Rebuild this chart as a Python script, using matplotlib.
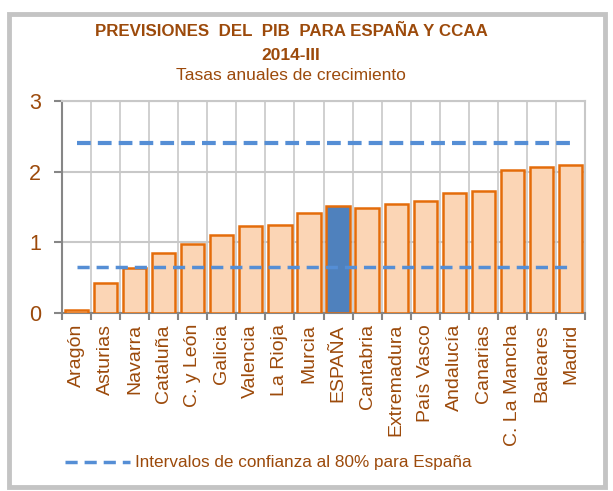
import numpy as np
import matplotlib.pyplot as plt
from matplotlib.patches import Rectangle

plt.rcParams['font.family'] = ['Liberation Sans', 'DejaVu Sans']

# datos
regiones = ['Aragón', 'Asturias', 'Navarra', 'Cataluña', 'C. y León', 'Galicia',
            'Valencia', 'La Rioja', 'Murcia', 'ESPAÑA', 'Cantabria', 'Extremadura',
            'País Vasco', 'Andalucía', 'Canarias', 'C. La Mancha', 'Baleares', 'Madrid']
crecimiento = [0.04, 0.43, 0.64, 0.85, 0.98, 1.11, 1.23, 1.25, 1.41, 1.51,
               1.49, 1.54, 1.59, 1.70, 1.72, 2.02, 2.06, 2.09]
int_sup = 2.40
int_inf = 0.65

marron = '#9C4A0B'
naranja = '#E46C0A'
relleno = '#FBD5B5'
azul = '#4F81BD'

fig = plt.figure(figsize=(6.13, 4.91), dpi=100)
# marco del grafico
fig.patches.append(Rectangle((9/613, 1-487/491), 596/613, 473/491, transform=fig.transFigure,
                             facecolor='none', edgecolor='#C4C4C4', linewidth=3.5, zorder=0))

ax = fig.add_axes([62/613, 1-313/491, 523/613, 212/491])
x = np.arange(len(regiones))
colores = [azul if r == 'ESPAÑA' else relleno for r in regiones]
ax.bar(x, crecimiento, width=0.8, color=colores, edgecolor=naranja, linewidth=1.8, zorder=3)

ax.plot([x[0], x[-1]], [int_sup, int_sup], '--', color='#558ED5', lw=3, dashes=(3.3, 1.7), zorder=4)
ax.plot([x[0], x[-1]], [int_inf, int_inf], '--', color='#558ED5', lw=2.5, dashes=(3.5, 2), zorder=4,
        label='Intervalos de confianza al 80% para España')

ax.set_xlim(-0.5, len(regiones) - 0.5)
ax.set_ylim(0, 3)
ax.set_yticks([0, 1, 2, 3])
ax.set_xticks(x)
ax.set_xticklabels(regiones, rotation=90, fontsize=14, color=marron)
ax.tick_params(axis='y', labelsize=15.5, labelcolor=marron, color='#868686', length=6, width=1.5, pad=9)
ax.tick_params(axis='x', length=0, pad=8)
ax.set_xticks(np.arange(-0.5, len(regiones)), minor=True)
ax.tick_params(axis='x', which='minor', length=5, color='#868686', width=1.5)
ax.grid(True, which='minor', axis='x', color='#C8C8C8', lw=1.2, zorder=0)
ax.grid(True, which='major', axis='y', color='#C8C8C8', lw=1.5, zorder=0)
ax.grid(False, which='major', axis='x')
ax.set_axisbelow(True)
for s in ['top', 'right']:
    ax.spines[s].set_color('#C8C8C8')
    ax.spines[s].set_linewidth(1.5)
for s in ['left', 'bottom']:
    ax.spines[s].set_color('#868686')
    ax.spines[s].set_linewidth(1.5)

fig.text(291/613, 1-32/491, 'PREVISIONES  DEL  PIB  PARA ESPAÑA Y CCAA', ha='center', va='center',
         fontsize=12.2, fontweight='bold', color=marron)
fig.text(291/613, 1-55/491, '2014-III', ha='center', va='center',
         fontsize=12.5, fontweight='bold', color=marron)
fig.text(291/613, 1-75/491, 'Tasas anuales de crecimiento', ha='center', va='center',
         fontsize=12.5, color=marron)

leg = fig.legend(loc='center', bbox_to_anchor=(268/613, 1-463/491), frameon=False,
                 fontsize=12.3, handlelength=3.8, handletextpad=0.3)
for t in leg.get_texts():
    t.set_color(marron)

fig.savefig('out.png', dpi=100)
